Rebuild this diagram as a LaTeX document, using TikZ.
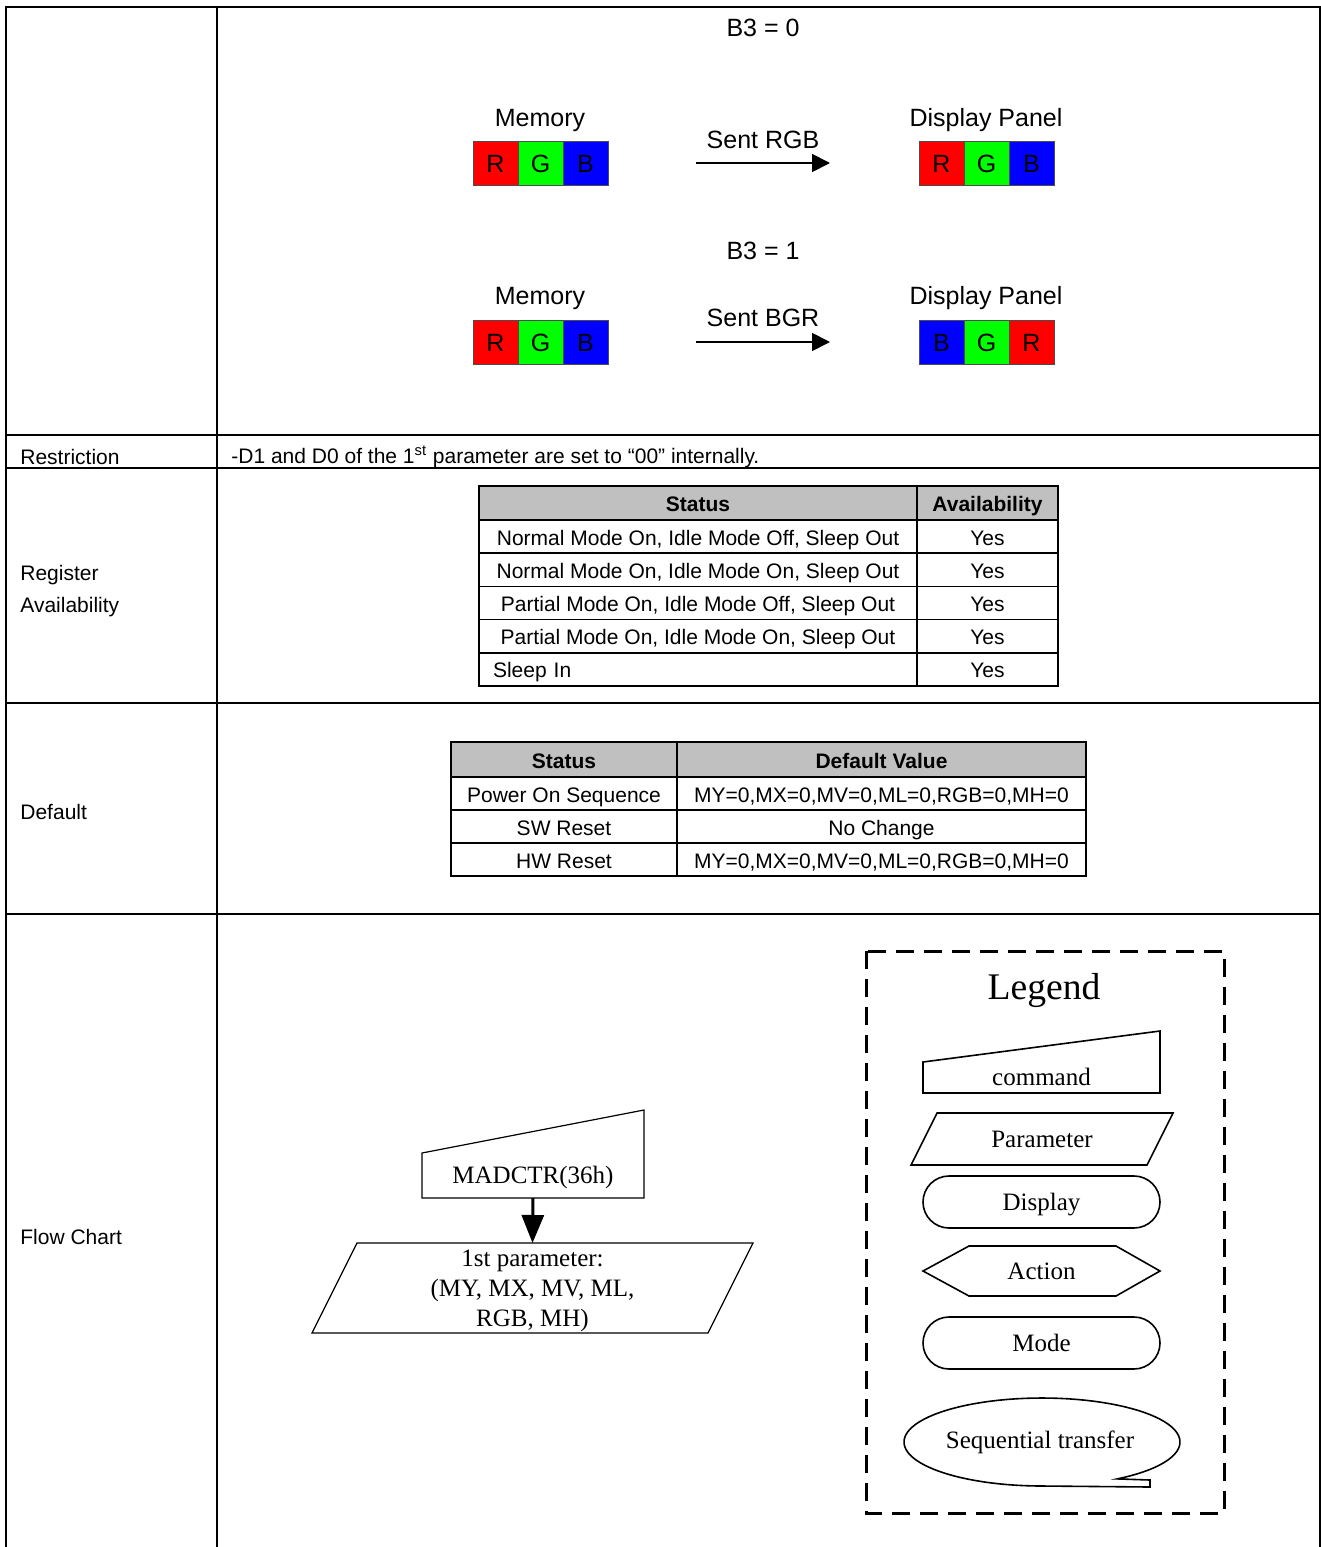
\documentclass[tikz,border=0pt]{standalone}
\usepackage{fontspec}
\setmainfont{Liberation Sans}
\newfontfamily\timesfont{Liberation Serif}
\usetikzlibrary{positioning,arrows.meta}
\definecolor{pixRed}{RGB}{255,0,0}
\definecolor{pixGreen}{RGB}{0,255,0}
\definecolor{pixBlue}{RGB}{0,0,255}
\definecolor{headGray}{RGB}{192,192,192}
\newcommand{\txt}{\fontsize{10.5}{16}\selectfont}
\newcommand{\bigtxt}{\fontsize{12.5}{15}\selectfont}

\begin{document}
\begin{tikzpicture}[x=0.5pt, y=-0.5pt,
    rule/.style={line width=0.9pt},
    rowname/.style={anchor=west, align=left, inner sep=0, font=\txt},
    pix/.style={draw=black!70, line width=0.4pt, minimum width=22.5pt, minimum height=22pt, inner sep=0, outer sep=0, text height=9pt, text depth=0pt, font=\bigtxt},
    cell/.style={draw, line width=0.8pt, inner sep=0, outer sep=0, minimum height=16.6pt, text height=9.5pt, text depth=1pt, font=\txt},
    hcell/.style={cell, fill=headGray, minimum height=17pt, font=\txt\bfseries},
    arrow/.style={-{Triangle[length=9pt,width=9pt]}, line width=0.9pt},
    flowtext/.style={font=\timesfont\bigtxt, align=center, inner sep=0, outer sep=0},
    flow/.style={flowtext, text height=10pt, text depth=1.7pt},
    outline/.style={line width=0.8pt},
    legendbox/.style={line width=1.5pt, dash pattern=on 9pt off 5pt}
]
\useasboundingbox (0,0) rectangle (1321,1547);
\draw[rule] (6,1547) -- (6,7) -- (1320,7) -- (1320,1547);
\draw[rule] (217,7) -- (217,1547);
\foreach \y in {435,468,703,914} \draw[rule] (6,\y) -- (1320,\y);

\node[font=\bigtxt] (b30) at (763,28) {B3 = 0};
\node[font=\bigtxt] (mem1) at (540,120) {Memory};
\node[font=\bigtxt] (disp1) at (986,120) {Display Panel};
\node[pix, fill=pixRed] (mR1) at (495.5,163) {R};
\node[pix, fill=pixGreen, right=0pt of mR1] (mG1) {G};
\node[pix, fill=pixBlue, right=0pt of mG1] (mB1) {B};
\node[pix, fill=pixRed] (dR1) at (941.5,163) {R};
\node[pix, fill=pixGreen, right=0pt of dR1] (dG1) {G};
\node[pix, fill=pixBlue, right=0pt of dG1] (dB1) {B};
\node[font=\bigtxt] (sent1) at (763,140) {Sent RGB};
\draw[arrow] ([xshift=44pt]mB1.east) -- ([xshift=-44.5pt]dR1.west);

\node[font=\bigtxt] (b31) at (763,251) {B3 = 1};
\node[font=\bigtxt] (mem2) at (540,298) {Memory};
\node[font=\bigtxt] (disp2) at (986,298) {Display Panel};
\node[pix, fill=pixRed] (mR2) at (495.5,342) {R};
\node[pix, fill=pixGreen, right=0pt of mR2] (mG2) {G};
\node[pix, fill=pixBlue, right=0pt of mG2] (mB2) {B};
\node[pix, fill=pixBlue] (dB2) at (941.5,342) {B};
\node[pix, fill=pixGreen, right=0pt of dB2] (dG2) {G};
\node[pix, fill=pixRed, right=0pt of dG2] (dR2) {R};
\node[font=\bigtxt] (sent2) at (763,318) {Sent BGR};
\draw[arrow] ([xshift=44pt]mB2.east) -- ([xshift=-44.5pt]dB2.west);

\node[rowname] (restr) at (20,457) {Restriction};
\node[rowname] (restrtxt) at (231,457) {-D1 and D0 of the 1\textsuperscript{st} parameter are set to “00” internally.};

\node[rowname] (regname) at (20,591) {Register\\Availability};
\node[hcell, minimum width=219pt, anchor=north west] (rs) at (479,486) {Status};
\node[hcell, minimum width=70.5pt, right=0pt of rs] (ra) {Availability};
\foreach \st [count=\i] in {{Normal Mode On, Idle Mode Off, Sleep Out}, {Normal Mode On, Idle Mode On, Sleep Out}, {Partial Mode On, Idle Mode Off, Sleep Out}, {Partial Mode On, Idle Mode On, Sleep Out}} {
  \node[cell, minimum width=219pt, anchor=north west] (rs\i) at (479,{520+33.2*(\i-1)}) {\st};
  \node[cell, minimum width=70.5pt, right=0pt of rs\i] (ra\i) {Yes};
}
\node[cell, text width=205pt, inner xsep=7pt, align=left, below=0pt of rs4] (rs5) {Sleep In};
\node[cell, minimum width=70.5pt, right=0pt of rs5] (ra5) {Yes};

\node[rowname] (defname) at (20,812) {Default};
\node[hcell, minimum width=113pt, minimum height=17.5pt, anchor=north west] (ds) at (451,742) {Status};
\node[hcell, minimum width=204.5pt, minimum height=17.5pt, right=0pt of ds] (dv) {Default Value};
\foreach \st/\val [count=\i] in {Power On Sequence/{MY=0,MX=0,MV=0,ML=0,RGB=0,MH=0}, SW Reset/No Change, HW Reset/{MY=0,MX=0,MV=0,ML=0,RGB=0,MH=0}} {
  \node[cell, minimum width=113pt, anchor=north west] (ds\i) at (451,{777+33*(\i-1)}) {\st};
  \node[cell, minimum width=204.5pt, right=0pt of ds\i] (dv\i) {\val};
}

\node[rowname] (flowname) at (20,1237) {Flow Chart};
\node[flow, minimum width=111pt, minimum height=22.5pt] (madctr) at (533,1175.5) {MADCTR(36h)};
\draw[line width=0.6pt] (madctr.south west) -- (madctr.south east) -- ([yshift=21.5pt]madctr.north east) -- (madctr.north west) -- cycle;
\node[flowtext, minimum width=198pt, minimum height=45pt] (param) at (532.5,1288) {\raisebox{-1.2pt}[\height][\depth]{\begin{tabular}{@{}c@{}}1st parameter:\\(MY, MX, MV, ML,\\RGB, MH)\end{tabular}}};
\draw[line width=0.6pt] ([xshift=11.25pt]param.north west) -- ([xshift=11.25pt]param.north east) -- ([xshift=-11.25pt]param.south east) -- ([xshift=-11.25pt]param.south west) -- cycle;
\draw[-{Triangle[length=14pt,width=11pt]}, line width=1.5pt] (madctr.south) -- (param.north);

\draw[legendbox] (866,951) rectangle (1224,1513);
\node[font=\timesfont\fontsize{18.8}{22}\selectfont] (legend) at (1044,990) {Legend};
\node[flow, minimum width=118.5pt, minimum height=15.5pt] (lcmd) at (1041.5,1077.5) {command};
\draw[outline] (lcmd.south west) -- (lcmd.south east) -- ([yshift=15.5pt]lcmd.north east) -- (lcmd.north west) -- cycle;
\node[flow, minimum width=118pt, minimum height=26pt] (lpar) at (1042,1139) {Parameter};
\draw[outline] ([xshift=6.5pt]lpar.north west) -- ([xshift=6.5pt]lpar.north east) -- ([xshift=-6.5pt]lpar.south east) -- ([xshift=-6.5pt]lpar.south west) -- cycle;
\node[flow, draw, outline, rounded corners=13pt, minimum width=118.5pt, minimum height=26pt] (ldisp) at (1041.5,1202) {Display};
\node[flow, minimum width=118.5pt, minimum height=25pt] (lact) at (1041.5,1271) {Action};
\draw[outline] (lact.west) -- ([xshift=23pt]lact.north west) -- ([xshift=-22pt]lact.north east) -- (lact.east) -- ([xshift=-22pt]lact.south east) -- ([xshift=23pt]lact.south west) -- cycle;
\node[flow, draw, outline, rounded corners=13pt, minimum width=118.5pt, minimum height=26pt] (lmode) at (1041.5,1343) {Mode};
\node[flow, minimum width=138pt, minimum height=44pt] (lseq) at (1040,1440) {Sequential transfer};
\draw[outline, shift={([xshift=1pt,yshift=-1pt]lseq.center)}] plot[domain=-57:270, samples=90] ({69pt*cos(\x)},{22pt*sin(\x)}) -- (54pt,-22.5pt) -- (54pt,-19pt) -- cycle;
\end{tikzpicture}
\end{document}
